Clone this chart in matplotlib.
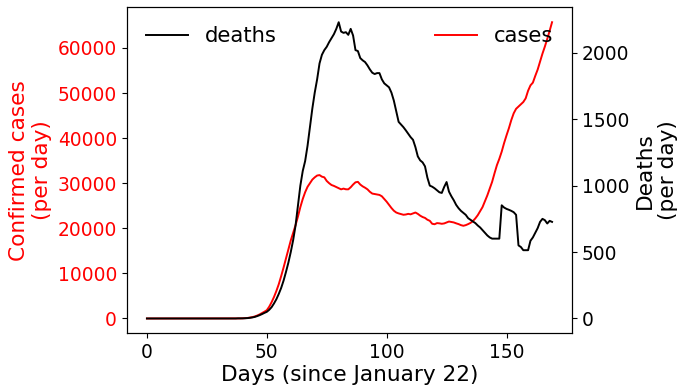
import matplotlib
matplotlib.use("Agg")
import matplotlib.pyplot as plt

# daily values, day 0 = January 22
cases = [
    0, 0, 1, 0, 1, 0, 0, 1, 0, 0,
    0, 1, 0, 0, 1, 0, 0, 0, 0, 1,
    0, 0, 0, 1, 0, 0, 0, 0, 1, 0,
    2, 3, 5, 5, 6, 8, 10, 12, 15, 20,
    40, 70, 120, 200, 300, 450, 650, 900, 1200, 1500,
    1830, 2600, 3600, 4760, 6100, 7600, 9400, 11300, 13300, 15300,
    17300, 19000, 20700, 22600, 24700, 26500, 28000, 29200, 30000, 30800,
    31300, 31700, 31800, 31450, 31300, 30500, 30000, 29600, 29400, 29150,
    28900, 28640, 28800, 28650, 28640, 29100, 29700, 30200, 30300, 29700,
    29300, 29000, 28640, 28100, 27700, 27600, 27500, 27400, 27100, 26500,
    25900, 25200, 24500, 23900, 23500, 23300, 23150, 23000, 23060, 23200,
    23100, 23300, 23500, 23200, 22800, 22500, 22300, 21900, 21660, 21000,
    20900, 21150, 21100, 21000, 21080, 21300, 21500, 21400, 21300, 21100,
    20930, 20700, 20560, 20700, 20930, 21200, 21600, 22200, 22900, 23800,
    24700, 26000, 27300, 28800, 30300, 32200, 34000, 35400, 37000, 38900,
    40600, 42200, 44000, 45500, 46500, 47000, 47500, 48000, 48820, 50500,
    51700, 52300, 53800, 55200, 57000, 58730, 60300, 62000, 63800, 65700,
]

deaths = [
    0, 0, 0, 0, 0, 0, 0, 0, 0, 0,
    0, 0, 0, 0, 0, 0, 0, 0, 0, 0,
    0, 0, 0, 0, 0, 0, 0, 0, 0, 0,
    0, 0, 0, 0, 0, 0, 0, 0, 1, 1,
    1, 2, 3, 5, 8, 12, 18, 25, 33, 42,
    50, 65, 85, 113, 145, 185, 230, 285, 350, 420,
    500, 590, 700, 850, 1000, 1110, 1185, 1300, 1440, 1580,
    1700, 1800, 1920, 1985, 2020, 2045, 2080, 2110, 2140, 2180,
    2230, 2160, 2150, 2155, 2135, 2180, 2130, 2020, 2013, 1960,
    1943, 1930, 1905, 1875, 1850, 1840, 1847, 1847, 1800, 1770,
    1755, 1740, 1700, 1640, 1560, 1480, 1460, 1440, 1416, 1390,
    1365, 1345, 1290, 1220, 1190, 1175, 1145, 1060, 1000, 992,
    980, 965, 950, 945, 990, 1027, 955, 920, 890, 855,
    830, 810, 795, 780, 755, 742, 730, 718, 700, 685,
    665, 645, 625, 610, 601, 601, 601, 601, 852, 835,
    825, 818, 810, 800, 780, 550, 538, 514, 514, 514,
    585, 610, 645, 680, 727, 750, 740, 715, 735, 727,
]

days = list(range(len(cases)))
x_ticks = [0, 50, 100, 150]
case_ticks = [0, 10000, 20000, 30000, 40000, 50000, 60000]
death_ticks = [0, 500, 1000, 1500, 2000]

TICK_FS = 13.4
LABEL_FS = 15.6
LEGEND_FS = 15.2

fig = plt.figure(figsize=(6.84, 3.9), dpi=100)
ax = fig.add_axes([0.1852, 0.1454, 0.6515, 0.8356])

ax.plot(days, cases, color='red', lw=1.4, label='cases')
ax.set_xlabel('Days (since January 22)', fontsize=LABEL_FS, labelpad=2)
ax.set_ylabel('Confirmed cases\n(per day)', color='red', fontsize=LABEL_FS)
ax.set_xticks(x_ticks)
ax.set_yticks(case_ticks)
ax.tick_params(axis='y', labelcolor='red', labelsize=TICK_FS)
ax.tick_params(axis='x', labelsize=TICK_FS)
ax.legend(loc='upper right', frameon=False, fontsize=LEGEND_FS)

ax2 = ax.twinx()
ax2.plot(days, deaths, color='black', lw=1.4, label='deaths')
ax2.set_ylabel('Deaths\n(per day)', fontsize=LABEL_FS)
ax2.set_yticks(death_ticks)
ax2.tick_params(axis='y', labelsize=TICK_FS)
ax2.legend(loc='upper left', frameon=False, fontsize=LEGEND_FS)

fig.savefig('out.png', dpi=100)
